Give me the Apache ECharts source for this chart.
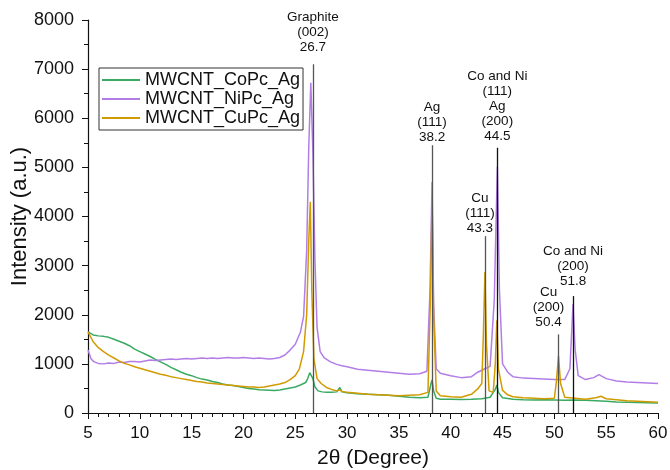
<!DOCTYPE html>
<html>
<head>
<meta charset="utf-8">
<script src="https://cdn.jsdelivr.net/npm/echarts@6/dist/echarts.min.js"></script>
<style>
  html, body { margin: 0; padding: 0; background: #fff; }
  #chart { width: 670px; height: 470px; }
</style>
</head>
<body>
<div id="chart"></div>
<script>
// XRD patterns, [2theta, intensity]
const coPc = [
  [5,1650],[5.5,1590],[6,1570],[6.5,1560],[7,1540],[7.5,1500],[8,1460],[8.5,1420],[9,1370],[9.5,1300],
  [10,1250],[10.5,1200],[11,1150],[11.5,1090],[12,1040],[12.5,990],[13,930],[13.5,880],[14,830],[14.5,790],
  [15,760],[15.5,720],[16,690],[16.5,670],[17,640],[17.5,620],[18,590],[18.5,570],[19,560],[19.5,540],
  [20,520],[20.5,500],[21,490],[21.5,475],[22,470],[22.5,465],[23,460],[23.5,470],[24,490],[24.5,510],
  [25,530],[25.5,570],[26,620],[26.2,700],[26.4,820],[26.5,835],[26.7,700],[26.9,530],[27.2,450],[27.6,430],
  [28,420],[28.5,420],[29,430],[29.3,520],[29.5,430],[30,410],[30.5,400],[31,390],[32,380],[33,370],
  [34,360],[35,340],[36,320],[37,310],[37.8,320],[38.1,600],[38.2,670],[38.35,450],[38.6,300],[39,280],
  [40,280],[41,275],[42,280],[43,290],[43.8,320],[44.3,480],[44.45,570],[44.6,420],[45,310],[46,280],
  [47,270],[48,265],[49,270],[50,265],[51,260],[52,265],[53,260],[54,250],[55,240],[56,225],
  [57,220],[58,215],[59,210],[60,205]
];
const niPc = [
  [5,1280],[5.3,1100],[5.6,1040],[6,1010],[6.5,1000],[7,1020],[7.5,1010],[8,1040],[8.5,1030],[9,1050],
  [9.5,1050],[10,1040],[10.5,1060],[11,1080],[11.5,1070],[12,1080],[12.5,1090],[13,1100],[13.5,1090],[14,1100],
  [14.5,1110],[15,1100],[15.5,1110],[16,1120],[16.5,1110],[17,1120],[17.5,1110],[18,1120],[18.5,1130],[19,1120],
  [19.5,1120],[20,1130],[20.5,1120],[21,1110],[21.5,1120],[22,1110],[22.5,1100],[23,1110],[23.5,1130],[24,1180],
  [24.5,1280],[25,1400],[25.5,1650],[25.8,1960],[26.1,3300],[26.3,5400],[26.5,6720],[26.7,5300],[26.9,3100],[27.1,1750],
  [27.4,1250],[27.8,1120],[28.4,1040],[29,990],[29.5,960],[30,940],[31,890],[32,870],[33,850],[34,830],
  [35,810],[36,790],[37,800],[37.7,850],[38,2500],[38.2,4700],[38.35,2200],[38.6,900],[39,810],[40,760],
  [41,720],[42,740],[42.6,830],[43.3,900],[43.8,950],[44.2,2300],[44.5,5010],[44.7,2500],[45,1000],[45.5,830],
  [46,740],[47,710],[48,700],[49,690],[50,680],[51,680],[51.5,900],[51.8,2220],[52,1300],[52.3,760],
  [53,680],[53.8,720],[54.3,780],[55,700],[56,650],[57,630],[58,620],[59,610],[60,600]
];
const cuPc = [
  [5,1650],[5.5,1450],[6,1330],[6.5,1250],[7,1180],[7.5,1120],[8,1060],[8.5,1010],[9,980],[9.5,940],
  [10,910],[10.5,880],[11,850],[11.5,820],[12,790],[12.5,770],[13,740],[13.5,720],[14,700],[14.5,680],
  [15,660],[15.5,640],[16,630],[16.5,610],[17,600],[17.5,590],[18,580],[18.5,570],[19,560],[19.5,550],
  [20,540],[20.5,530],[21,530],[21.5,520],[22,530],[22.5,550],[23,570],[23.5,590],[24,620],[24.5,680],
  [25,760],[25.4,900],[25.8,1250],[26.1,2000],[26.3,3500],[26.45,4300],[26.6,2450],[26.8,1100],[27.1,700],[27.5,600],
  [28,520],[28.5,480],[29,450],[29.3,470],[29.5,440],[30,420],[31,400],[32,380],[33,370],[34,360],
  [35,350],[36,360],[37,370],[37.8,420],[38.05,2400],[38.2,4380],[38.35,2000],[38.6,450],[39,350],[40,330],
  [41,320],[42,380],[42.6,490],[43,600],[43.15,1600],[43.3,2870],[43.45,1400],[43.7,450],[44.1,420],[44.3,1000],
  [44.45,1890],[44.6,900],[45,460],[45.5,370],[46,330],[47,310],[48,300],[49,290],[50,300],[50.2,650],
  [50.4,1160],[50.6,600],[51,320],[52,300],[53,280],[54,310],[54.5,340],[55,290],[56,270],[57,250],
  [58,240],[59,230],[60,220]
];

const seriesNames = ['MWCNT_CoPc_Ag', 'MWCNT_NiPc_Ag', 'MWCNT_CuPc_Ag'];
const seriesColors = ['#3aaa63', '#b27ee6', '#d19b00'];

// reference lines: position, top of line, label text
const peakPos = [26.7, 38.2, 43.3, 44.5, 50.4, 51.8];
const peakTop = [7100, 5450, 3600, 5400, 1600, 2380];
const peakText = [
  'Graphite\n(002)\n26.7',
  'Ag\n(111)\n38.2',
  'Cu\n(111)\n43.3',
  'Co and Ni\n(111)\nAg\n(200)\n44.5',
  'Cu\n(200)\n50.4',
  'Co and Ni\n(200)\n51.8'
];
const peakLineColor = ['#555', '#555', '#555', '#111', '#555', '#111'];
const peakLabelShift = [0, 0, -5, 0, -10, 0];
const peakLabelGap = [9, 0.5, 0, 3.5, 4.5, 7.5];

const font = 'Liberation Sans, Arial, sans-serif';

const chart = echarts.init(document.getElementById('chart'));

const markLineData = peakPos.map((x, i) => ([
  {
    coord: [x, 0],
    lineStyle: { color: peakLineColor[i], width: 1.3, type: 'solid' },
    label: {
      show: true,
      position: 'end',
      formatter: peakText[i],
      offset: [peakLabelShift[i], 0],
      distance: peakLabelGap[i],
      color: '#111',
      fontSize: 13.5,
      lineHeight: 15,
      fontFamily: font,
      align: 'center'
    }
  },
  { coord: [x, peakTop[i]] }
]));

const seriesData = [coPc, niPc, cuPc];

chart.setOption({
  animation: false,
  textStyle: { fontFamily: font },
  grid: { left: 88, right: 12, top: 20, bottom: 57, outerBoundsMode: 'none' },
  legend: {
    data: seriesNames,
    orient: 'vertical',
    left: 99,
    top: 68,
    padding: [3, 3, 3, 3],
    itemGap: 1,
    itemWidth: 38,
    itemHeight: 2,
    icon: 'rect',
    borderColor: '#333',
    borderWidth: 1,
    textStyle: { fontSize: 18, lineHeight: 18, color: '#111', fontFamily: font }
  },
  xAxis: {
    type: 'value',
    min: 5,
    max: 60,
    interval: 5,
    name: '2θ (Degree)',
    nameLocation: 'middle',
    nameGap: 35,
    nameTextStyle: { fontSize: 21, color: '#111' },
    axisLine: { lineStyle: { color: '#111', width: 1.2 } },
    axisTick: { length: 6, lineStyle: { color: '#111' } },
    minorTick: { show: true, splitNumber: 5, length: 4, lineStyle: { color: '#111' } },
    axisLabel: { fontSize: 17, color: '#111', margin: 12 },
    splitLine: { show: false }
  },
  yAxis: {
    type: 'value',
    min: 0,
    max: 8000,
    interval: 1000,
    name: 'Intensity (a.u.)',
    nameLocation: 'middle',
    nameGap: 57,
    nameMoveOverlap: false,
    nameTextStyle: { fontSize: 22, color: '#111' },
    axisLine: { show: true, lineStyle: { color: '#111', width: 1.2 } },
    axisTick: { show: true, length: 6, lineStyle: { color: '#111' } },
    minorTick: { show: true, splitNumber: 2, length: 4, lineStyle: { color: '#111' } },
    axisLabel: { fontSize: 18, color: '#111', margin: 14, formatter: v => String(v) },
    splitLine: { show: false }
  },
  series: seriesData.map((d, i) => ({
    name: seriesNames[i],
    type: 'line',
    data: d,
    showSymbol: false,
    symbol: 'none',
    color: seriesColors[i],
    lineStyle: { width: 1.5, color: seriesColors[i] },
    z: 2 + i,
    markLine: i === 2 ? {
      silent: true,
      symbol: ['none', 'none'],
      animation: false,
      data: markLineData
    } : undefined
  }))
});
</script>
</body>
</html>
